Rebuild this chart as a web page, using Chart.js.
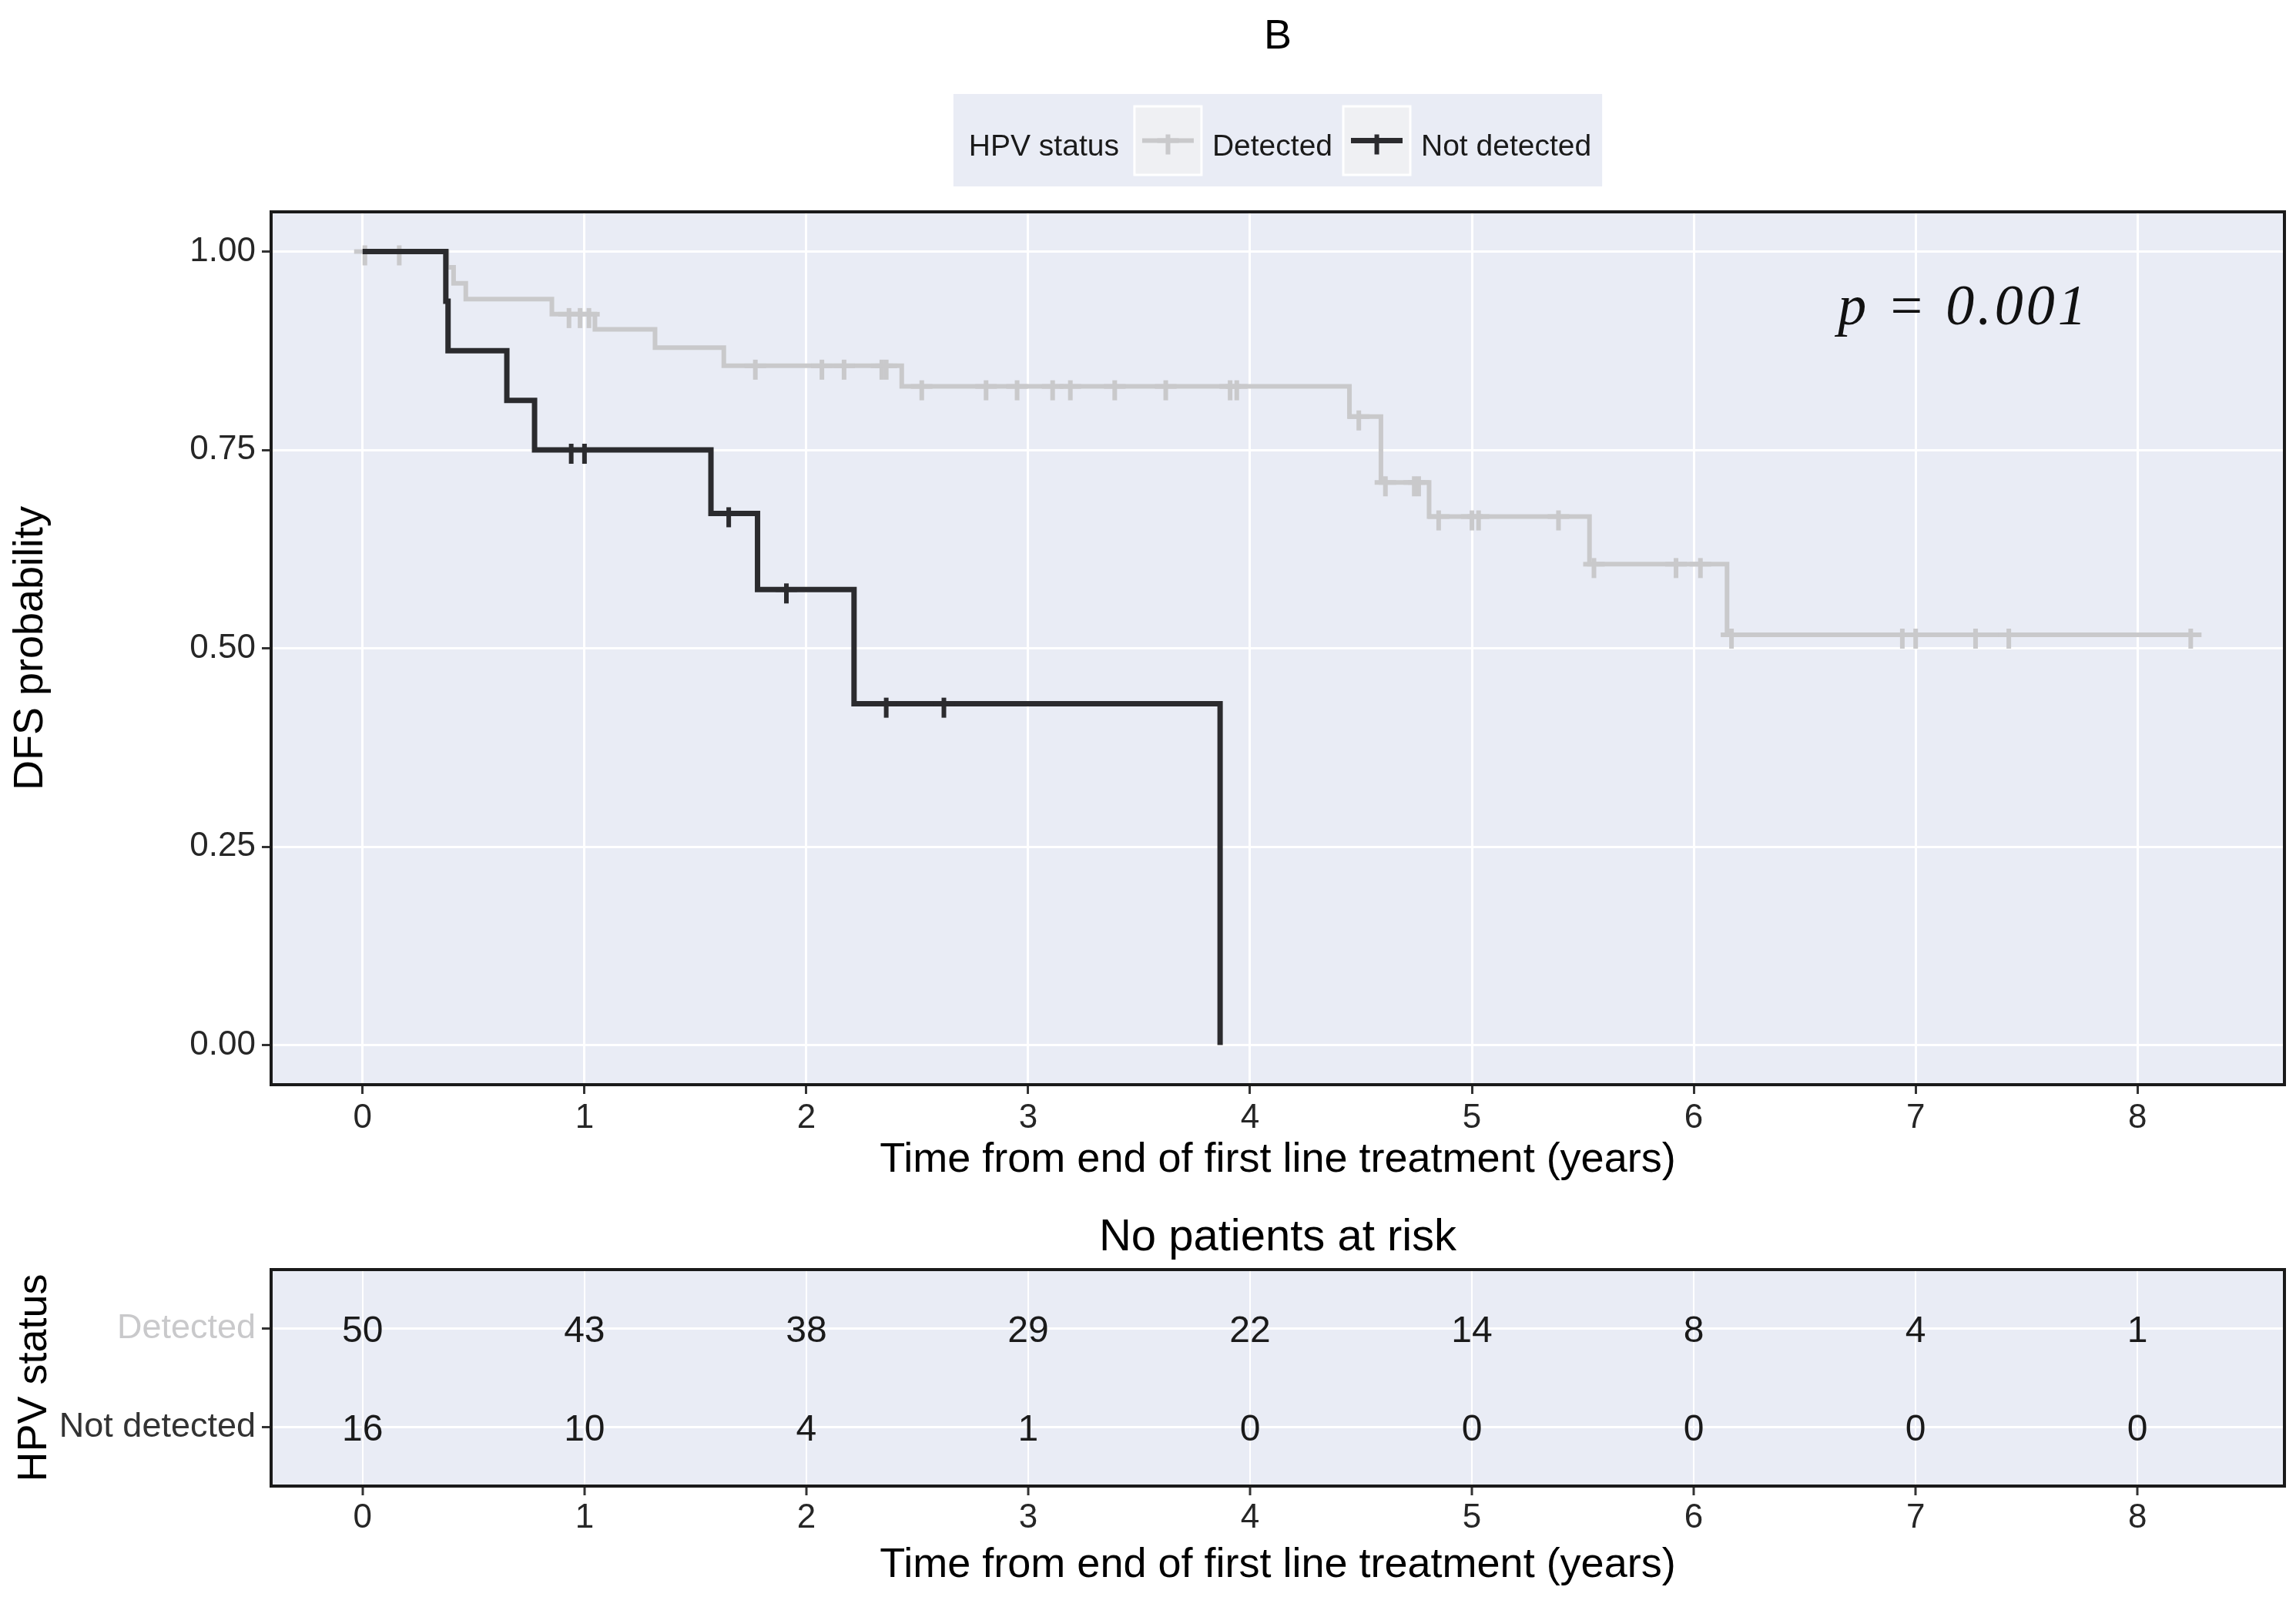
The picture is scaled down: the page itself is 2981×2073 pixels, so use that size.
<!DOCTYPE html>
<html>
<head>
<meta charset="utf-8">
<title>DFS by HPV status</title>
<script src="https://cdn.jsdelivr.net/npm/chart.js@4.4.1/dist/chart.umd.min.js"></script>
<style>
  html, body { margin: 0; padding: 0; background: #fff; }
  #wrap { position: relative; width: 2981px; height: 2073px; }
  #wrap canvas { position: absolute; left: 0; top: 0; }
</style>
</head>
<body>
<div id="wrap">
  <canvas id="kmChart" width="2981" height="2073"></canvas>
  <canvas id="riskChart" width="2981" height="2073"></canvas>
</div>
<script>
// values
const groups = ['Detected', 'Not detected'];

// Kaplan-Meier steps (time in years, survival after the step)
const detectedTimes = [0, 0.38, 0.41, 0.465, 0.853, 1.047, 1.318, 1.628, 2.43, 4.448, 4.59, 4.807, 5.53, 6.15, 8.25];
const detectedSurv  = [1, 0.98, 0.96, 0.94, 0.921, 0.902, 0.879, 0.856, 0.830, 0.792, 0.709, 0.666, 0.606, 0.517, 0.517];
const detectedCensor = [0.01, 0.165, 0.93, 0.98, 1.02, 1.77, 2.07, 2.17, 2.34, 2.36, 2.52, 2.81, 2.95, 3.11, 3.19,
  3.39, 3.62, 3.91, 3.94, 4.49, 4.61, 4.74, 4.76, 4.85, 5.0, 5.03, 5.39, 5.55, 5.92, 6.03, 6.17, 6.94, 7.0, 7.27, 7.42, 8.24];

const notDetectedTimes = [0, 0.375, 0.385, 0.65, 0.775, 1.57, 1.78, 2.215, 3.865];
const notDetectedSurv  = [1, 0.9375, 0.875, 0.8125, 0.75, 0.670, 0.574, 0.430, 0];
const notDetectedCensor = [0.94, 1.0, 1.65, 1.91, 2.36, 2.62];

const xTicks = [0, 1, 2, 3, 4, 5, 6, 7, 8];
const yTicks = [0, 0.25, 0.5, 0.75, 1];

const riskTimes = [0, 1, 2, 3, 4, 5, 6, 7, 8];
const riskDetected = [50, 43, 38, 29, 22, 14, 8, 4, 1];
const riskNotDetected = [16, 10, 4, 1, 0, 0, 0, 0, 0];

const pValueText = 'p = 0.001';

// look & feel
const FONT = "'Liberation Sans', Arial, sans-serif";
const panelBg = '#E9ECF5';
const grayCol = '#C9C9CB';
const darkCol = '#2B2B2E';
Chart.defaults.font.family = FONT;

function stepPoints(times, surv) {
  return times.map((t, i) => ({ x: t, y: surv[i] }));
}
function survAt(times, surv, t) {
  let s = surv[0];
  for (let i = 0; i < times.length; i++) if (times[i] <= t) s = surv[i];
  return s;
}
function censorPoints(cens, times, surv) {
  return cens.map(t => ({ x: t, y: survAt(times, surv, t) }));
}
function censorMark(color) {
  const c = document.createElement('canvas');
  c.width = 30; c.height = 40;
  const g = c.getContext('2d');
  g.fillStyle = color;
  g.fillRect(1, 17, 28, 6);
  g.fillRect(12, 12, 6, 26);
  return c;
}
const grayMark = censorMark(grayCol);
const darkMark = censorMark(darkCol);

function xAxis(height, tickPad, titlePad, gridWidth) {
  return {
    type: 'linear', min: -0.4125, max: 8.6625,
    afterBuildTicks: s => { s.ticks = xTicks.map(v => ({ value: v })); },
    afterFit: s => { s.height = height; },
    grid: { color: '#fff', lineWidth: gridWidth, tickColor: '#333', tickWidth: 3, tickLength: 12 },
    border: { display: false },
    ticks: { font: { size: 44 }, color: '#262626', padding: tickPad, maxRotation: 0, autoSkip: false },
    title: { display: true, text: 'Time from end of first line treatment (years)',
      font: { size: 54 }, color: '#000', padding: { top: 0, bottom: titlePad } }
  };
}

function drawPanel(chart) {
  const { ctx, chartArea: a } = chart;
  ctx.save();
  ctx.fillStyle = panelBg;
  ctx.fillRect(a.left, a.top, a.right - a.left, a.bottom - a.top);
  ctx.restore();
}
function drawBorder(chart) {
  const { ctx, chartArea: a } = chart;
  ctx.save();
  ctx.strokeStyle = '#1a1a1a';
  ctx.lineWidth = 4;
  ctx.strokeRect(a.left, a.top, a.right - a.left, a.bottom - a.top);
  ctx.restore();
}

const kmDecor = {
  id: 'kmDecor',
  beforeDraw: drawPanel,
  afterDraw(chart) {
    drawBorder(chart);
    const { ctx, chartArea: a, scales } = chart;
    const cx = (a.left + a.right) / 2;
    ctx.save();
    // title
    ctx.fillStyle = '#000';
    ctx.font = '54px ' + FONT;
    ctx.textAlign = 'center';
    ctx.textBaseline = 'middle';
    ctx.fillText('B', cx, 48);

    // legend
    ctx.font = '39px ' + FONT;
    ctx.textBaseline = 'alphabetic';
    ctx.textAlign = 'left';
    const keyW = 87, keyH = 89;
    const wTitle = ctx.measureText('HPV status').width;
    const wLab = groups.map(g => ctx.measureText(g).width);
    const total = 20 + wTitle + 20 + keyW + 14 + wLab[0] + 14 + keyW + 11 + wLab[1] + 17;
    let x = cx - total / 2;
    const boxTop = 122, boxH = 120;
    ctx.fillStyle = panelBg;
    ctx.fillRect(x, boxTop, total, boxH);
    const base = 202, keyTop = 138, keyMid = keyTop + keyH / 2;
    x += 20;
    ctx.fillStyle = '#1a1a1a';
    ctx.fillText('HPV status', x, base);
    x += wTitle + 20;
    const cols = [grayCol, darkCol], marks = [grayMark, darkMark], widths = [6, 7];
    const gaps = [14, 11];
    groups.forEach((g, i) => {
      ctx.fillStyle = '#EFF0F3';
      ctx.fillRect(x, keyTop, keyW, keyH);
      ctx.strokeStyle = '#fff';
      ctx.lineWidth = 3;
      ctx.strokeRect(x, keyTop, keyW, keyH);
      ctx.strokeStyle = cols[i];
      ctx.lineWidth = widths[i];
      ctx.beginPath();
      ctx.moveTo(x + 10, keyMid);
      ctx.lineTo(x + keyW - 10, keyMid);
      ctx.stroke();
      ctx.drawImage(marks[i], x + keyW / 2 - 15, keyMid - 20);
      x += keyW + 14;
      ctx.fillStyle = '#1a1a1a';
      ctx.fillText(g, x, base);
      x += wLab[i] + gaps[i];
    });

    // p value
    ctx.font = 'italic 74px "Liberation Serif", "DejaVu Serif", serif';
    ctx.letterSpacing = '4px';
    ctx.fillStyle = '#111';
    ctx.fillText(pValueText, scales.x.getPixelForValue(6.65), scales.y.getPixelForValue(0.908));
    ctx.restore();
  }
};

new Chart(document.getElementById('kmChart'), {
  type: 'line',
  data: {
    datasets: [
      { label: groups[1], data: censorPoints(notDetectedCensor, notDetectedTimes, notDetectedSurv),
        showLine: false, pointStyle: darkMark, pointRadius: 10, order: 0 },
      { label: groups[1], data: stepPoints(notDetectedTimes, notDetectedSurv), stepped: 'before',
        borderColor: darkCol, borderWidth: 7, pointRadius: 0, fill: false, order: 1 },
      { label: groups[0], data: censorPoints(detectedCensor, detectedTimes, detectedSurv),
        showLine: false, pointStyle: grayMark, pointRadius: 10, order: 2 },
      { label: groups[0], data: stepPoints(detectedTimes, detectedSurv), stepped: 'before',
        borderColor: grayCol, borderWidth: 6, pointRadius: 0, fill: false, order: 3 }
    ]
  },
  options: {
    responsive: false, devicePixelRatio: 1, animation: false, events: [],
    layout: { padding: { left: 0, right: 15, top: 275, bottom: 505 } },
    plugins: { legend: { display: false }, tooltip: { enabled: false } },
    scales: {
      x: xAxis(160, 5, 29, 3),
      y: {
        type: 'linear', min: -0.05, max: 1.05,
        afterBuildTicks: s => { s.ticks = yTicks.map(v => ({ value: v })); },
        afterFit: s => { s.width = 352; },
        grid: { color: '#fff', lineWidth: 3, tickColor: '#333', tickWidth: 3, tickLength: 12 },
        border: { display: false },
        ticks: { font: { size: 44 }, color: '#262626', padding: 8, callback: v => v.toFixed(2) },
        title: { display: true, text: 'DFS probability', font: { size: 54 }, color: '#000',
          padding: { top: 8, bottom: 0 } }
      }
    }
  },
  plugins: [kmDecor]
});

// number at risk table
const riskDecor = {
  id: 'riskDecor',
  beforeDraw: drawPanel,
  afterDatasetsDraw(chart) {
    const { ctx } = chart;
    ctx.save();
    ctx.font = '48px ' + FONT;
    ctx.fillStyle = '#1a1a1a';
    ctx.textAlign = 'center';
    ctx.textBaseline = 'middle';
    chart.data.datasets.forEach((ds, di) => {
      chart.getDatasetMeta(di).data.forEach((pt, i) => {
        ctx.fillText(String(ds.counts[i]), pt.x, pt.y + 4);
      });
    });
    ctx.restore();
  },
  afterDraw(chart) {
    drawBorder(chart);
    const { ctx, chartArea: a } = chart;
    ctx.save();
    ctx.font = '58px ' + FONT;
    ctx.fillStyle = '#000';
    ctx.textAlign = 'center';
    ctx.textBaseline = 'middle';
    ctx.fillText('No patients at risk', (a.left + a.right) / 2, a.top - 41);
    ctx.restore();
  }
};

const rowOf = g => groups.length - groups.indexOf(g);

new Chart(document.getElementById('riskChart'), {
  type: 'scatter',
  data: {
    datasets: [
      { label: groups[0], counts: riskDetected,
        data: riskTimes.map(t => ({ x: t, y: rowOf(groups[0]) })), pointRadius: 0 },
      { label: groups[1], counts: riskNotDetected,
        data: riskTimes.map(t => ({ x: t, y: rowOf(groups[1]) })), pointRadius: 0 }
    ]
  },
  options: {
    responsive: false, devicePixelRatio: 1, animation: false, events: [],
    layout: { padding: { left: 0, right: 15, top: 1648, bottom: 4 } },
    plugins: { legend: { display: false }, tooltip: { enabled: false } },
    scales: {
      x: xAxis(140, 3, 4, 2),
      y: {
        type: 'linear', min: 0.4, max: 2.6,
        afterBuildTicks: s => { s.ticks = groups.map(g => ({ value: rowOf(g) })); },
        afterFit: s => { s.width = 352; },
        grid: { color: '#fff', lineWidth: 3, tickColor: '#333', tickWidth: 3, tickLength: 12 },
        border: { display: false },
        ticks: {
          font: { size: 45 }, padding: 8,
          color: c => (c.tick && c.tick.value === rowOf(groups[0])) ? grayCol : '#333',
          callback: v => groups[groups.length - v]
        },
        title: { display: true, text: 'HPV status', font: { size: 54 }, color: '#000',
          padding: { top: 13, bottom: 0 } }
      }
    }
  },
  plugins: [riskDecor]
});
</script>
</body>
</html>
